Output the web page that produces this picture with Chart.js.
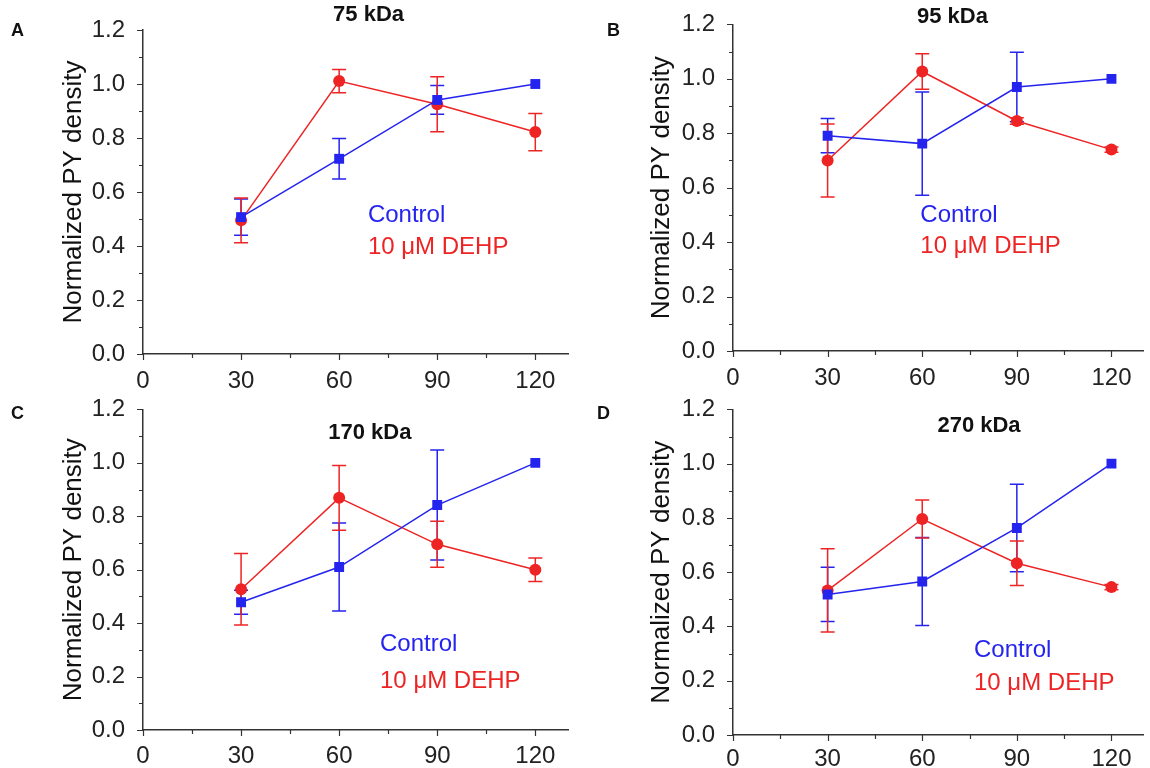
<!DOCTYPE html>
<html lang="en">
<head>
<meta charset="utf-8">
<title>Normalized PY density</title>
<script src="https://cdn.jsdelivr.net/npm/chart.js@4.4.0/dist/chart.umd.min.js"></script>
<style>
  body { margin: 0; background: #fff; font-family: "Liberation Sans", Arial, sans-serif; }
  #page { position: relative; width: 1150px; height: 768px; overflow: hidden; background: #fff; }
  .panel { position: absolute; }
  .top { z-index: 2; }
  .letter { position: absolute; z-index: 3; font-weight: bold; font-size: 18px; color: #111; }
</style>
</head>
<body>
<div id="page">
  <div class="panel top" style="left:0;top:0;"><canvas id="chartA" width="575" height="393"></canvas></div>
  <div class="panel top" style="left:575px;top:0;"><canvas id="chartB" width="575" height="393"></canvas></div>
  <div class="panel" style="left:0;top:385px;"><canvas id="chartC" width="575" height="400"></canvas></div>
  <div class="panel" style="left:575px;top:385px;"><canvas id="chartD" width="575" height="400"></canvas></div>
  <div class="letter" style="left:11px;top:20px;">A</div>
  <div class="letter" style="left:607px;top:20px;">B</div>
  <div class="letter" style="left:11px;top:403px;">C</div>
  <div class="letter" style="left:597px;top:403px;">D</div>
</div>
<script>
// time points (min)
var times = [30, 60, 90, 120];

// 75 kDa
var controlA = [0.507, 0.723, 0.941, 1.0];
var controlErrA = [0.067, 0.075, 0.053, 0];
var dehpA = [0.495, 1.011, 0.925, 0.822];
var dehpErrA = [0.083, 0.043, 0.102, 0.069];

// 95 kDa
var controlB = [0.791, 0.762, 0.970, 1.0];
var controlErrB = [0.063, 0.19, 0.128, 0];
var dehpB = [0.700, 1.027, 0.845, 0.740];
var dehpErrB = [0.134, 0.065, 0.012, 0.01];

// 170 kDa
var controlC = [0.478, 0.610, 0.842, 1.0];
var controlErrC = [0.045, 0.165, 0.206, 0];
var dehpC = [0.527, 0.869, 0.695, 0.600];
var dehpErrC = [0.134, 0.121, 0.086, 0.044];

// 270 kDa
var controlD = [0.518, 0.566, 0.763, 1.0];
var controlErrD = [0.10, 0.162, 0.161, 0];
var dehpD = [0.533, 0.796, 0.633, 0.545];
var dehpErrD = [0.153, 0.07, 0.082, 0.01];

var seriesNames = ["Control", "10 \u03bcM DEHP"];
var BLUE = "#2424ee";
var RED = "#ee2424";
var FONT = "'Liberation Sans', Arial, sans-serif";

Chart.defaults.font.family = FONT;
Chart.defaults.color = "#222";

function pts(ys) {
  var out = [];
  for (var i = 0; i < times.length; ++i) out.push({x: times[i], y: ys[i]});
  return out;
}

// vertical error bars with caps, drawn under the markers
var errorBars = {
  id: 'errorBars',
  beforeDatasetsDraw: function(chart) {
    var ctx = chart.ctx, xs = chart.scales.x, ys = chart.scales.y;
    chart.data.datasets.forEach(function(ds) {
      if (!ds.errors) return;
      ctx.save();
      ctx.strokeStyle = ds.borderColor;
      ctx.lineWidth = 1.5;
      ds.data.forEach(function(p, i) {
        var e = ds.errors[i];
        if (!e) return;
        var px = xs.getPixelForValue(p.x);
        var top = ys.getPixelForValue(p.y + e);
        var bot = ys.getPixelForValue(p.y - e);
        ctx.beginPath();
        ctx.moveTo(px, top); ctx.lineTo(px, bot);
        ctx.moveTo(px - 7, top); ctx.lineTo(px + 7, top);
        ctx.moveTo(px - 7, bot); ctx.lineTo(px + 7, bot);
        ctx.stroke();
      });
      ctx.restore();
    });
  }
};

// major + minor tick marks on both axes
var tickMarks = {
  id: 'tickMarks',
  afterDraw: function(chart) {
    var ctx = chart.ctx, xs = chart.scales.x, ys = chart.scales.y;
    var a = chart.chartArea;
    ctx.save();
    ctx.strokeStyle = "#333";
    ctx.lineWidth = 1.2;
    ctx.beginPath();
    for (var k = 0; k <= 12; ++k) {
      var py = Math.round(ys.getPixelForValue(k / 10)) + 0.5;
      var len = (k % 2 === 0) ? 6 : 4;
      ctx.moveTo(a.left - len, py); ctx.lineTo(a.left, py);
    }
    for (var v = 0; v <= 120; v += 15) {
      var px = Math.round(xs.getPixelForValue(v)) + 0.5;
      var l2 = (v % 30 === 0) ? 6 : 4;
      ctx.moveTo(px, a.bottom); ctx.lineTo(px, a.bottom + l2);
    }
    ctx.stroke();
    ctx.restore();
  }
};

function makePanel(id, box, ctrl, ctrlErr, dehp, dehpErr, notes) {
  var notesPlugin = {
    id: 'notes',
    afterDraw: function(chart) {
      var ctx = chart.ctx, xs = chart.scales.x, ys = chart.scales.y;
      ctx.save();
      ctx.textBaseline = "middle";
      ctx.textAlign = "center";
      ctx.fillStyle = "#111";
      ctx.font = "bold 22px " + FONT;
      ctx.fillText(notes.title, xs.getPixelForValue(notes.tx), ys.getPixelForValue(notes.ty));
      ctx.textAlign = "left";
      ctx.font = "24px " + FONT;
      ctx.fillStyle = BLUE;
      ctx.fillText(seriesNames[0], xs.getPixelForValue(notes.lx), ys.getPixelForValue(notes.ly[0]));
      ctx.fillStyle = RED;
      ctx.fillText(seriesNames[1], xs.getPixelForValue(notes.lx), ys.getPixelForValue(notes.ly[1]));
      ctx.restore();
    }
  };

  return new Chart(document.getElementById(id), {
    type: 'line',
    data: {
      datasets: [{
        label: seriesNames[0],
        data: pts(ctrl),
        errors: ctrlErr,
        borderColor: BLUE,
        backgroundColor: BLUE,
        borderWidth: 1.5,
        pointStyle: 'rect',
        pointRadius: 7,
        pointBorderWidth: 0,
        tension: 0
      }, {
        label: seriesNames[1],
        data: pts(dehp),
        errors: dehpErr,
        borderColor: RED,
        backgroundColor: RED,
        borderWidth: 1.5,
        pointStyle: 'circle',
        pointRadius: 6,
        pointBorderWidth: 0,
        tension: 0
      }]
    },
    options: {
      responsive: false,
      animation: false,
      layout: { padding: { top: box.top, right: box.right, bottom: box.bottom, left: 0 } },
      plugins: { legend: { display: false }, tooltip: { enabled: false } },
      scales: {
        x: {
          type: 'linear', min: 0, max: 130,
          grid: { display: false },
          border: { display: true, color: "#333", width: 1.5 },
          ticks: { stepSize: 30, includeBounds: false, padding: box.tickPad, color: "#222",
                   font: { size: 24 } },
          afterFit: function(s) { s.height = 34; }
        },
        y: {
          min: 0, max: 1.2,
          grid: { display: false },
          border: { display: true, color: "#333", width: 1.5 },
          ticks: { stepSize: 0.2, padding: 10, color: "#222", font: { size: 24 },
                   callback: function(v) { return v.toFixed(1); } },
          title: { display: true, text: "Normalized PY density", color: "#111",
                   font: { size: 26 }, padding: { top: box.titlePad, bottom: 0 } },
          afterFit: function(s) { s.width = box.axisW; }
        }
      }
    },
    plugins: [errorBars, tickMarks, notesPlugin]
  });
}

makePanel('chartA', {top: 30, right: 7, bottom: 5, axisW: 143, titlePad: 58, tickPad: 5},
  controlA, controlErrA, dehpA, dehpErrA,
  {title: "75 kDa", tx: 69, ty: 1.255, lx: 68.8, ly: [0.515, 0.396]});
makePanel('chartB', {top: 24, right: 1, bottom: 8, axisW: 158, titlePad: 71, tickPad: 5},
  controlB, controlErrB, dehpB, dehpErrB,
  {title: "95 kDa", tx: 69.6, ty: 1.226, lx: 59.4, ly: [0.5, 0.385]});
makePanel('chartC', {top: 18, right: 7, bottom: 21, axisW: 143, titlePad: 58, tickPad: 4},
  controlC, controlErrC, dehpC, dehpErrC,
  {title: "170 kDa", tx: 69.4, ty: 1.112, lx: 72.5, ly: [0.32, 0.183]});
makePanel('chartD', {top: 23, right: 1, bottom: 16, axisW: 158, titlePad: 71, tickPad: 2},
  controlD, controlErrD, dehpD, dehpErrD,
  {title: "270 kDa", tx: 78, ty: 1.138, lx: 76.4, ly: [0.312, 0.19]});
</script>
</body>
</html>
